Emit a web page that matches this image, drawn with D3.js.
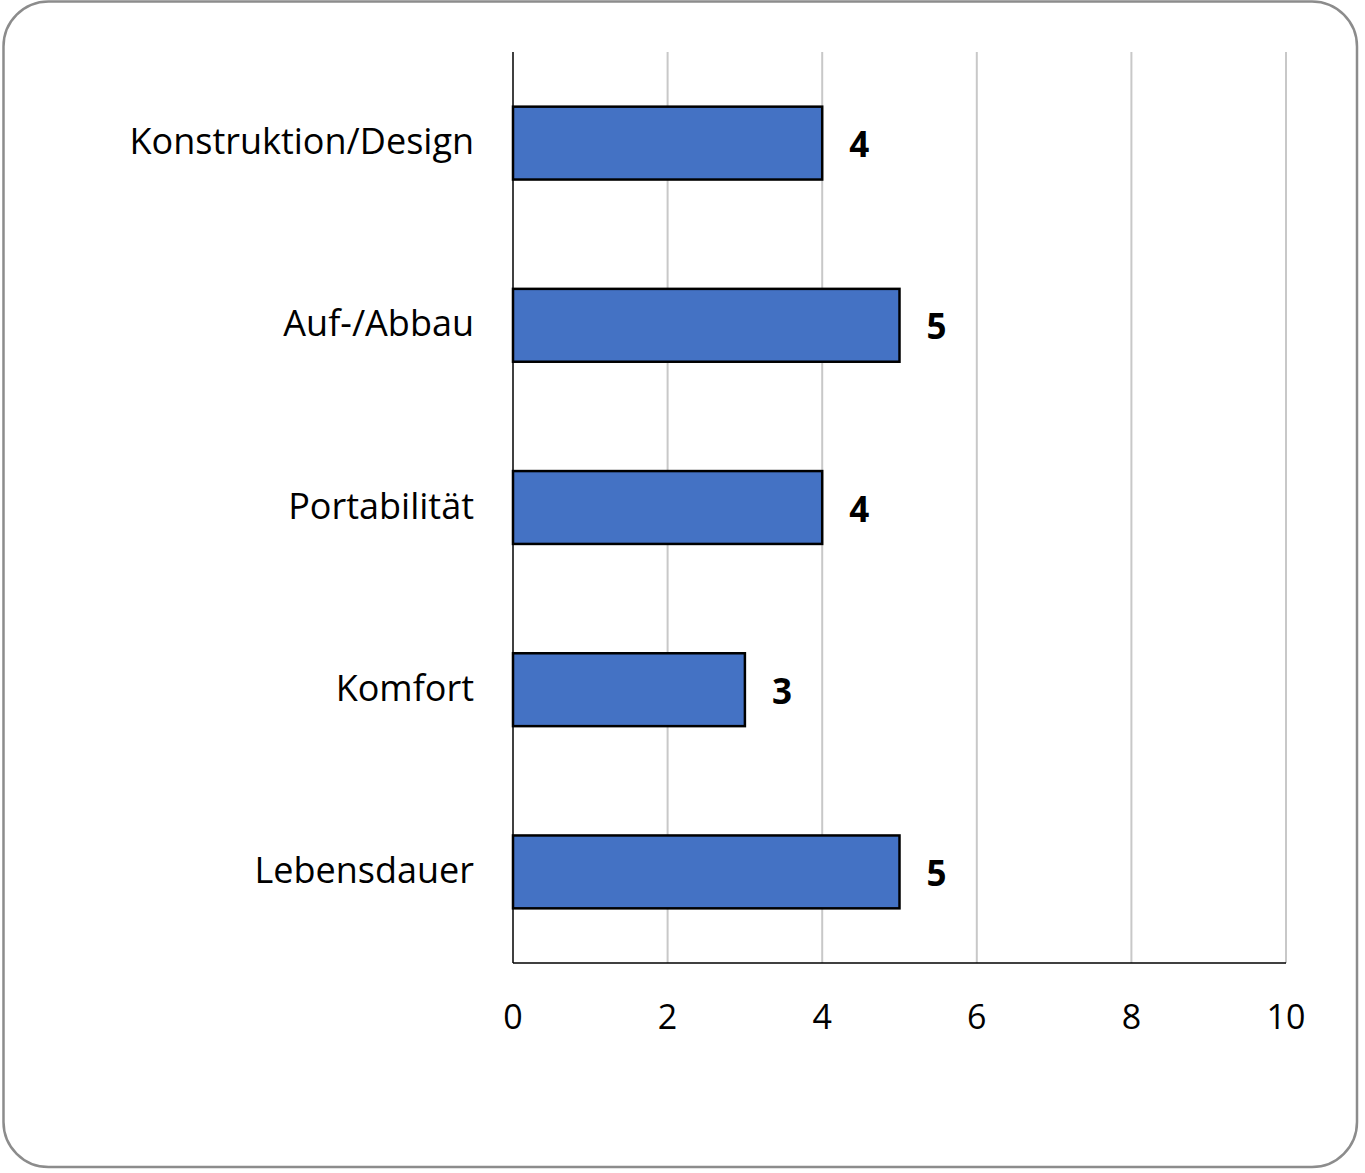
<!DOCTYPE html>
<html><head><meta charset="utf-8">
<script src="https://cdn.jsdelivr.net/npm/d3@7"></script>
<style>body{margin:0;background:#fff}svg{display:block}</style>
</head><body>
<script>
const categories = ["Konstruktion/Design","Auf-/Abbau","Portabilität","Komfort","Lebensdauer"];
const values = [4,5,4,3,5];
const xTicks = [0,2,4,6,8,10];

const W=1365,H=1173;
const svg=d3.select("body").append("svg").attr("width",W).attr("height",H);
svg.append("rect").attr("x",3.5).attr("y",1.5).attr("width",1353.5).attr("height",1165.5)
  .attr("rx",45).attr("ry",45).attr("fill","#fff").attr("stroke","#8c8c8c").attr("stroke-width",2.5);

const pLeft=513,pRight=1286,pTop=52,pBottom=963;
const x=d3.scaleLinear().domain([0,10]).range([pLeft,pRight]);
const y=d3.scaleBand().domain(categories).range([pTop,pBottom]).paddingInner(0.6).paddingOuter(0.3);
const font="'Open Sans', sans-serif";

svg.append("g").selectAll("line").data(xTicks.filter(t=>t>0)).join("line")
  .attr("x1",d=>x(d)).attr("x2",d=>x(d)).attr("y1",pTop).attr("y2",pBottom)
  .attr("stroke","#c8c8c8").attr("stroke-width",2);

svg.append("g").selectAll("rect").data(categories).join("rect")
  .attr("x",x(0)).attr("y",d=>y(d)).attr("width",(d,i)=>x(values[i])-x(0)).attr("height",y.bandwidth())
  .attr("fill","#4472c4").attr("stroke","#000").attr("stroke-width",2.5);

svg.append("line").attr("x1",pLeft).attr("x2",pLeft).attr("y1",pTop).attr("y2",pBottom).attr("stroke","#000").attr("stroke-width",1.5);
svg.append("line").attr("x1",pLeft).attr("x2",pRight).attr("y1",pBottom).attr("y2",pBottom).attr("stroke","#000").attr("stroke-width",1.5);

svg.append("g").selectAll("text").data(xTicks).join("text")
  .attr("x",d=>x(d)).attr("y",1029).attr("text-anchor","middle")
  .attr("font-family",font).attr("font-size",34).attr("fill","#000").text(d=>d);

svg.append("g").selectAll("text").data(categories).join("text")
  .attr("x",474).attr("y",d=>y(d)+y.bandwidth()/2+11).attr("text-anchor","end")
  .attr("font-family",font).attr("font-size",36).attr("fill","#000").text(d=>d);

svg.append("g").selectAll("text").data(categories).join("text")
  .attr("x",(d,i)=>x(values[i])+27).attr("y",d=>y(d)+y.bandwidth()/2+14)
  .attr("font-family",font).attr("font-weight","bold").attr("font-size",35).attr("fill","#000").text((d,i)=>values[i]);
</script>
</body></html>
